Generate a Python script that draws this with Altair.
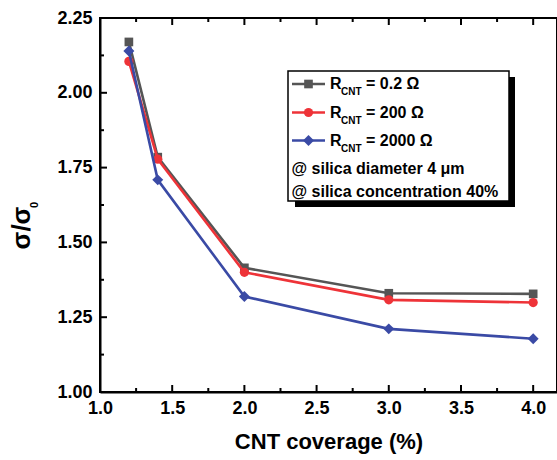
import altair as alt
import pandas as pd

# ---- data ----
coverage = [1.2, 1.4, 2.0, 3.0, 4.0]
ratio_r02 = [2.170, 1.785, 1.415, 1.330, 1.328]
ratio_r200 = [2.105, 1.778, 1.400, 1.308, 1.299]
ratio_r2000 = [2.140, 1.709, 1.319, 1.211, 1.178]
series_values = [ratio_r02, ratio_r200, ratio_r2000]
series_names = ["= 0.2 Ω", "= 200 Ω", "= 2000 Ω"]
series_colors = ["#555555", "#ee3338", "#3a4aa5"]
series_shapes = ["square", "circle", "diamond"]
series_sizes = [75, 85, 120]

x_major = [1.0, 1.5, 2.0, 2.5, 3.0, 3.5, 4.0]
x_minor = [1.25, 1.75, 2.25, 2.75, 3.25, 3.75]
y_major = [1.00, 1.25, 1.50, 1.75, 2.00, 2.25]
y_minor = [1.125, 1.375, 1.625, 1.875, 2.125]
notes = ["@ silica diameter 4 μm", "@ silica concentration 40%"]

FONT = "Liberation Sans"
W, H = 457, 374

xs = alt.Scale(domain=[1.0, 4.165], nice=False, zero=False)
ys = alt.Scale(domain=[1.0, 2.25], nice=False, zero=False)

X = alt.X("coverage:Q", scale=xs,
          axis=alt.Axis(values=x_major, format=".1f", ticks=False, grid=False,
                        title="CNT coverage (%)", labelPadding=7, titlePadding=14,
                        labelFlush=False))
Y = alt.Y("ratio:Q", scale=ys,
          axis=alt.Axis(values=y_major, format=".2f", ticks=False, grid=False,
                        title=None, labelPadding=8, labelFlush=False))

one = pd.DataFrame({"k": [0]})
layers = []

# tick marks pointing inward (bottom/top and left)
def xticks(vals, length):
    d = pd.DataFrame({"coverage": vals})
    bot = alt.Chart(d).mark_rule(color="black", strokeWidth=2).encode(
        x=X, y=alt.value(H), y2=alt.value(H - length))
    top = alt.Chart(d).mark_rule(color="black", strokeWidth=2).encode(
        x=X, y=alt.value(0), y2=alt.value(length))
    return [bot, top]

def yticks(vals, length):
    d = pd.DataFrame({"ratio": vals})
    return [alt.Chart(d).mark_rule(color="black", strokeWidth=2).encode(
        y=Y, x=alt.value(0), x2=alt.value(length))]

layers += xticks(x_major, 7) + xticks(x_minor, 4)
layers += yticks(y_major, 7) + yticks(y_minor, 4)

# data series
for name, vals, col, shp, sz in zip(series_names, series_values, series_colors,
                                    series_shapes, series_sizes):
    d = pd.DataFrame({"coverage": coverage, "ratio": vals})
    layers.append(alt.Chart(d).mark_line(color=col, strokeWidth=2.6).encode(x=X, y=Y))
    layers.append(alt.Chart(d).mark_point(color=col, shape=shp, filled=True,
                                          opacity=1, size=sz).encode(x=X, y=Y))

# legend box with shadow
layers.append(alt.Chart(one).mark_rect(color="black").encode(
    x=alt.value(195), x2=alt.value(415), y=alt.value(59), y2=alt.value(189)))
layers.append(alt.Chart(one).mark_rect(fill="white", stroke="black", strokeWidth=1.5).encode(
    x=alt.value(188), x2=alt.value(409), y=alt.value(53), y2=alt.value(183)))

row_y = [66, 94.5, 122.5]
for ry, name, col, shp, sz in zip(row_y, series_names, series_colors, series_shapes, series_sizes):
    layers.append(alt.Chart(one).mark_rule(color=col, strokeWidth=2.6).encode(
        x=alt.value(192), x2=alt.value(225), y=alt.value(ry)))
    layers.append(alt.Chart(one).mark_point(color=col, shape=shp, filled=True,
                                            opacity=1, size=sz).encode(
        x=alt.value(208.5), y=alt.value(ry)))
    layers.append(alt.Chart(one).mark_text(text="R", font=FONT, fontWeight="bold",
                                           fontSize=16, align="left", baseline="middle").encode(
        x=alt.value(230), y=alt.value(ry)))
    layers.append(alt.Chart(one).mark_text(text="CNT", font=FONT, fontWeight="bold",
                                           fontSize=10, align="left", baseline="middle").encode(
        x=alt.value(241), y=alt.value(ry + 8)))
    layers.append(alt.Chart(one).mark_text(text=name, font=FONT, fontWeight="bold",
                                           fontSize=16, align="left", baseline="middle").encode(
        x=alt.value(266), y=alt.value(ry)))

for ny, note in zip([150.5, 173.5], notes):
    layers.append(alt.Chart(one).mark_text(text=note, font=FONT, fontWeight="bold",
                                           fontSize=16, align="left", baseline="middle").encode(
        x=alt.value(191.5), y=alt.value(ny)))

# y-axis title sigma/sigma_0
layers.append(alt.Chart(one).mark_text(text="σ/σ", font=FONT, fontWeight="bold", fontSize=26,
                                       angle=270, align="center", baseline="alphabetic").encode(
    x=alt.value(-70), y=alt.value(210)))
layers.append(alt.Chart(one).mark_text(text="0", font=FONT, fontWeight="bold", fontSize=11,
                                       angle=270, align="center", baseline="alphabetic").encode(
    x=alt.value(-62), y=alt.value(187)))

chart = alt.layer(*layers).properties(
    width=W, height=H,
    background="white",
    autosize=alt.AutoSizeParams(type="none"),
    padding={"left": 100, "top": 18, "right": 0, "bottom": 68},
).configure_view(
    stroke="black", strokeWidth=2
).configure_axis(
    labelFont=FONT, labelFontWeight="bold", labelFontSize=18, labelColor="black",
    titleFont=FONT, titleFontWeight="bold", titleFontSize=22, titleColor="black",
    domainColor="black", domainWidth=2
)

chart.save("out.html", embed_options={"renderer": "svg", "actions": False})
